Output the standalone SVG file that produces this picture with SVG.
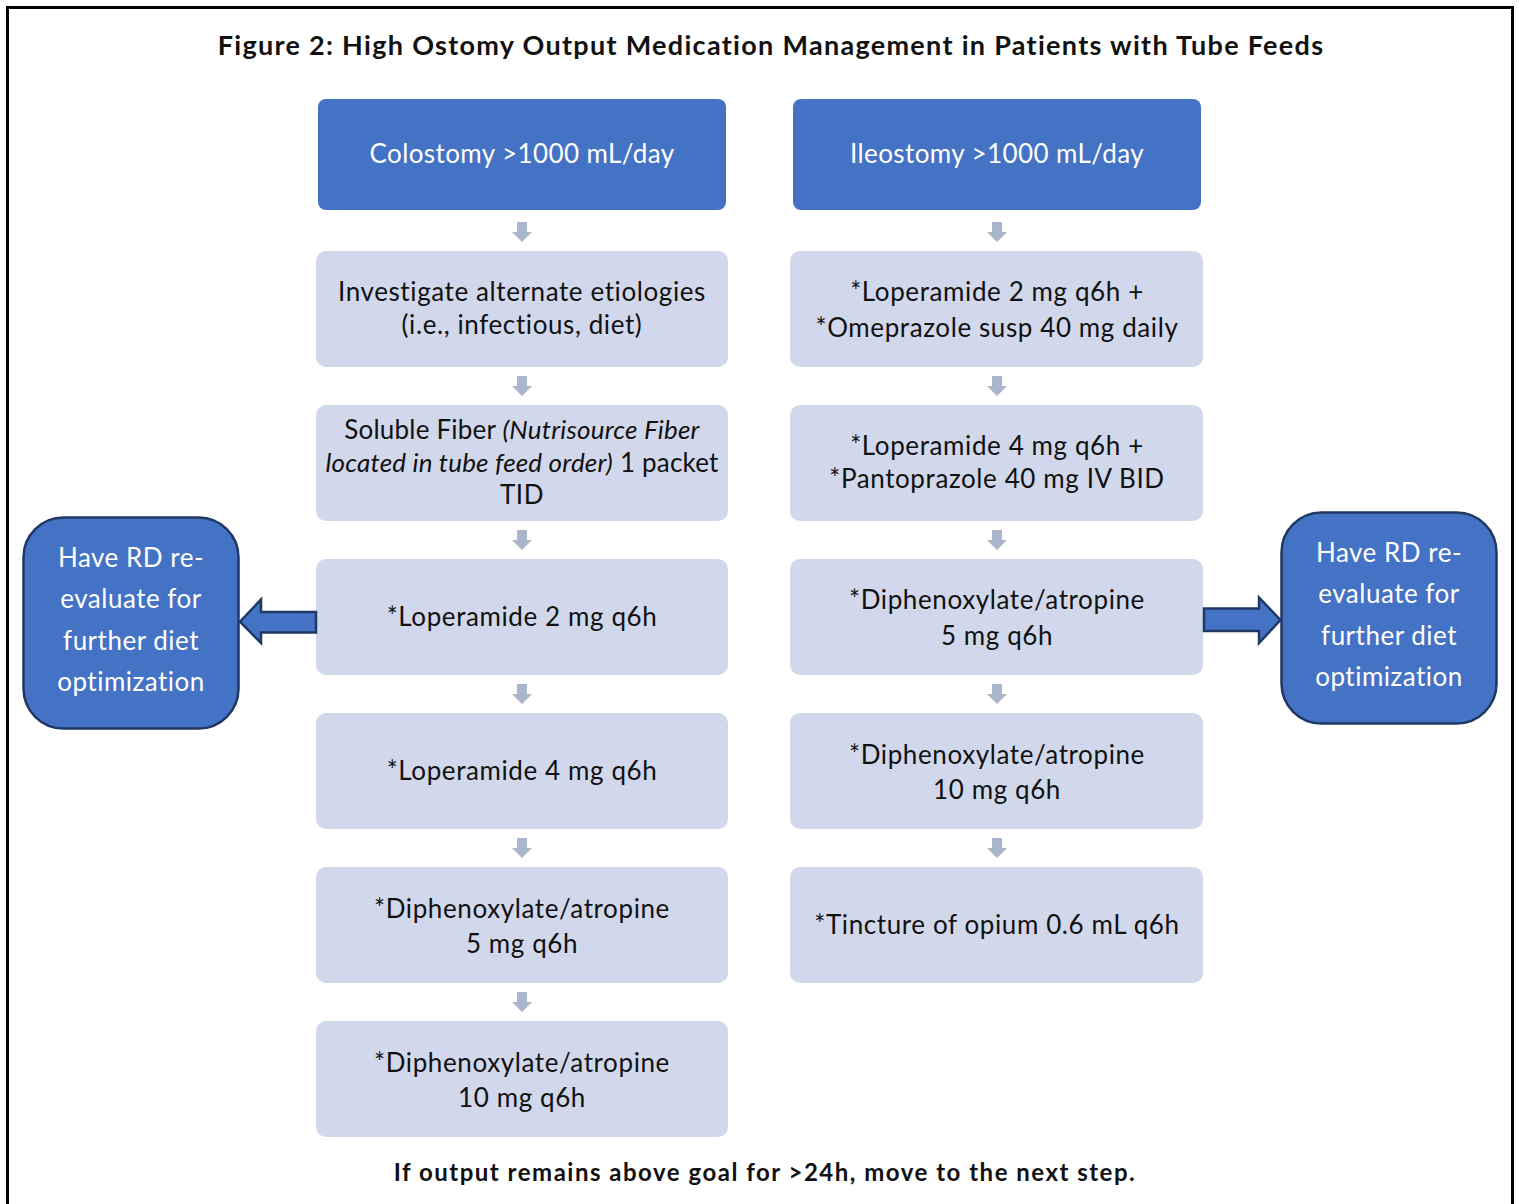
<svg xmlns="http://www.w3.org/2000/svg" width="1519" height="1204" viewBox="0 0 1519 1204">
  <style>
    text { font-family: Lato, "Noto Sans", "Liberation Sans", sans-serif; text-anchor: middle; }
    .title { font-size: 27px; font-weight: bold; fill: #111; letter-spacing: 1.3px; }
    .foot { font-size: 24px; font-weight: bold; fill: #111; letter-spacing: 1.5px; }
    .head { fill: #4472C4; }
    .headtxt { font-size: 26px; fill: #ffffff; letter-spacing: 0.4px; }
    .step { fill: #D1D8EB; }
    .steptxt { font-size: 26px; fill: #111; letter-spacing: 0.6px; }
    .tight { letter-spacing: 0.2px; }
    .side { fill: #4472C4; stroke: #1F3864; stroke-width: 2.5; }
    .sidetxt { font-size: 26px; fill: #ffffff; letter-spacing: 0.5px; }
    .down { fill: #A9B6CC; }
    .big { fill: #4472C4; stroke: #1F3864; stroke-width: 2.5; stroke-linejoin: miter; }
  </style>
  <defs>
    <path id="dn" d="M-5,0 H5 V10 H10 L0,20 L-10,10 H-5 Z"/>
  </defs>

  <rect width="1519" height="1204" fill="#ffffff"/>
  <!-- outer frame -->
  <rect x="7.5" y="7.5" width="1505" height="1205" fill="none" stroke="#000" stroke-width="3"/>

  <text class="title" x="771" y="55">Figure 2: High Ostomy Output Medication Management in Patients with Tube Feeds</text>

  <!-- left column: colostomy -->
  <g id="colostomy">
    <rect class="head" x="318" y="99" width="408" height="111" rx="8"/>
    <text class="headtxt" x="522" y="163">Colostomy &gt;1000 mL/day</text>
  </g>
  <g id="c-etiology">
    <rect class="step" x="316" y="251" width="412" height="116" rx="10"/>
    <text class="steptxt" x="522" y="301">Investigate alternate etiologies</text>
    <text class="steptxt" x="522" y="334">(i.e., infectious, diet)</text>
  </g>
  <g id="c-fiber">
    <rect class="step" x="316" y="405" width="412" height="116" rx="10"/>
    <text class="steptxt tight" x="522" y="439">Soluble Fiber <tspan font-style="italic">(Nutrisource Fiber</tspan></text>
    <text class="steptxt tight" x="522" y="472"><tspan font-style="italic">located in tube feed order)</tspan> 1 packet</text>
    <text class="steptxt" x="522" y="504">TID</text>
  </g>
  <g id="c-lop2">
    <rect class="step" x="316" y="559" width="412" height="116" rx="10"/>
    <text class="steptxt" x="522" y="626">*Loperamide 2 mg q6h</text>
  </g>
  <g id="c-lop4">
    <rect class="step" x="316" y="713" width="412" height="116" rx="10"/>
    <text class="steptxt" x="522" y="780">*Loperamide 4 mg q6h</text>
  </g>
  <g id="c-dip5">
    <rect class="step" x="316" y="867" width="412" height="116" rx="10"/>
    <text class="steptxt" x="522" y="918">*Diphenoxylate/atropine</text>
    <text class="steptxt" x="522" y="953">5 mg q6h</text>
  </g>
  <g id="c-dip10">
    <rect class="step" x="316" y="1021" width="412" height="116" rx="10"/>
    <text class="steptxt" x="522" y="1072">*Diphenoxylate/atropine</text>
    <text class="steptxt" x="522" y="1107">10 mg q6h</text>
  </g>

  <!-- right column: ileostomy -->
  <g id="ileostomy">
    <rect class="head" x="793" y="99" width="408" height="111" rx="8"/>
    <text class="headtxt" x="997" y="163">Ileostomy &gt;1000 mL/day</text>
  </g>
  <g id="i-lop2">
    <rect class="step" x="790" y="251" width="413" height="116" rx="10"/>
    <text class="steptxt" x="997" y="301">*Loperamide 2 mg q6h +</text>
    <text class="steptxt" x="997" y="337">*Omeprazole susp 40 mg daily</text>
  </g>
  <g id="i-lop4">
    <rect class="step" x="790" y="405" width="413" height="116" rx="10"/>
    <text class="steptxt" x="997" y="455">*Loperamide 4 mg q6h +</text>
    <text class="steptxt" x="997" y="488">*Pantoprazole 40 mg IV BID</text>
  </g>
  <g id="i-dip5">
    <rect class="step" x="790" y="559" width="413" height="116" rx="10"/>
    <text class="steptxt" x="997" y="609">*Diphenoxylate/atropine</text>
    <text class="steptxt" x="997" y="645">5 mg q6h</text>
  </g>
  <g id="i-dip10">
    <rect class="step" x="790" y="713" width="413" height="116" rx="10"/>
    <text class="steptxt" x="997" y="764">*Diphenoxylate/atropine</text>
    <text class="steptxt" x="997" y="799">10 mg q6h</text>
  </g>
  <g id="i-opium">
    <rect class="step" x="790" y="867" width="413" height="116" rx="10"/>
    <text class="steptxt" x="997" y="934">*Tincture of opium 0.6 mL q6h</text>
  </g>

  <!-- side boxes -->
  <g id="rd-left">
    <rect class="side" x="23.5" y="517.5" width="215" height="211" rx="40"/>
    <text class="sidetxt" x="131" y="567">Have RD re-</text>
    <text class="sidetxt" x="131" y="608">evaluate for</text>
    <text class="sidetxt" x="131" y="650">further diet</text>
    <text class="sidetxt" x="131" y="691">optimization</text>
  </g>
  <g id="rd-right">
    <rect class="side" x="1281.5" y="512.5" width="215" height="211" rx="40"/>
    <text class="sidetxt" x="1389" y="562">Have RD re-</text>
    <text class="sidetxt" x="1389" y="603">evaluate for</text>
    <text class="sidetxt" x="1389" y="645">further diet</text>
    <text class="sidetxt" x="1389" y="686">optimization</text>
  </g>

  <!-- connectors -->
  <g id="connectors">
    <use href="#dn" class="down" x="522" y="222"/>
    <use href="#dn" class="down" x="522" y="376"/>
    <use href="#dn" class="down" x="522" y="530"/>
    <use href="#dn" class="down" x="522" y="684"/>
    <use href="#dn" class="down" x="522" y="838"/>
    <use href="#dn" class="down" x="522" y="992"/>
    <use href="#dn" class="down" x="997" y="222"/>
    <use href="#dn" class="down" x="997" y="376"/>
    <use href="#dn" class="down" x="997" y="530"/>
    <use href="#dn" class="down" x="997" y="684"/>
    <use href="#dn" class="down" x="997" y="838"/>
    <path class="big" d="M316,612 V632.5 H261 V643 L240,621.7 L261,599.5 V612 Z"/>
    <path class="big" d="M1204,608.5 V631 H1259 V643 L1280.5,620 L1259,597.5 V608.5 Z"/>
  </g>

  <text class="foot" x="765" y="1181">If output remains above goal for &gt;24h, move to the next step.</text>
</svg>
